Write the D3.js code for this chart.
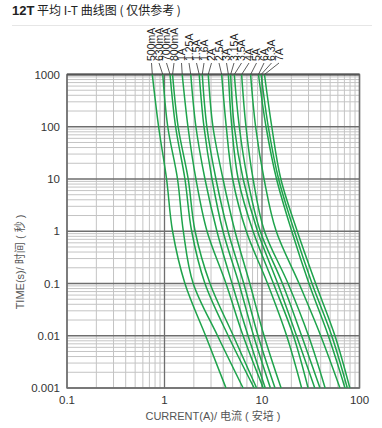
<!DOCTYPE html>
<html><head><meta charset="utf-8">
<script src="https://cdn.jsdelivr.net/npm/d3@7"></script>
<style>
html,body{margin:0;padding:0;background:#fff;}
svg{display:block;font-family:"Liberation Sans",Arial,"Noto Sans CJK SC",sans-serif;}
</style></head>
<body>
<svg id="c" width="382" height="428"></svg>
<script>
// ratings (labels)
const ratings = ["500mA","630mA","700mA","800mA","1A","1.25A","1.5A","1.6A","2A","2.5A","3A","3.15A","3.5A","4A","5A","6A","6.3A","7A"];
// time levels (s) at which the currents are read
const times = [1000, 100, 10, 1, 0.1, 0.01, 0.001];
// current (A) for each rating at each time level
const i500mA = [0.75, 0.87, 1.05, 1.21, 1.62, 2.64, 4.27];
const i630mA = [0.96, 1.08, 1.36, 1.56, 1.97, 3.5, 6.4];
const i700mA = [1.14, 1.3, 1.62, 1.9, 2.6, 4.5, 8.3];
const i800mA = [1.21, 1.38, 1.75, 2.06, 2.93, 5.08, 8.8];
const i1A    = [1.52, 1.74, 2.1, 2.73, 4.27, 6.4, 10.3];
const i1_25A = [1.86, 2.1, 2.6, 3.45, 4.93, 7.2, 10.8];
const i1_5A  = [2.27, 2.54, 3.07, 3.98, 5.8, 8.2, 12.2];
const i1_6A  = [2.44, 2.72, 3.37, 4.48, 6.5, 9.1, 13.6];
const i2A    = [2.81, 3.14, 3.98, 5.28, 7.5, 10.5, 15.7];
const i2_5A  = [3.86, 4.3, 5.0, 6.9, 11.4, 17.9, 25.5];
const i3A    = [4.52, 4.9, 5.7, 8.1, 13.1, 21, 29.7];
const i3_15A = [4.77, 5.2, 6.4, 9.0, 14.5, 22.6, 34.8];
const i3_5A  = [5.2, 5.85, 7.1, 9.6, 16.2, 25.5, 39.3];
const i4A    = [6.18, 6.85, 8.1, 10.6, 18.5, 30, 44.4];
const i5A    = [7.64, 8.6, 10.5, 14, 24, 40, 63];
const i6A    = [9.2, 11, 14.1, 20.2, 30.3, 47.9, 71];
const i6_3A  = [9.8, 11.6, 14.8, 21.5, 32.6, 51.9, 75];
const i7A    = [10.6, 12.6, 15.6, 23, 35.5, 56, 79.6];
const seriesCurrents = [i500mA,i630mA,i700mA,i800mA,i1A,i1_25A,i1_5A,i1_6A,i2A,i2_5A,i3A,i3_15A,i3_5A,i4A,i5A,i6A,i6_3A,i7A];
// tick labels
const xTicks = [0.1, 1, 10, 100];
const xTickLabels = ["0.1","1","10","100"];
const yTicks = [1000, 100, 10, 1, 0.1, 0.01, 0.001];
const yTickLabels = ["1000","100","10","1","0.1","0.01","0.001"];

const svg = d3.select("#c");
const L = 67, R = 359.5, T = 74.5, B = 388;
const x = d3.scaleLog().domain([0.1, 100]).range([L, R]);
const y = d3.scaleLog().domain([0.001, 1000]).range([B, T]);

// title
const title = svg.append("text").attr("x", 12).attr("y", 15).attr("font-size", 12).attr("fill", "#222");
title.append("tspan").attr("font-weight", "bold").attr("font-size", 13).text("12T");
title.append("tspan").attr("font-family", "'Noto Sans CJK SC',sans-serif").text(" 平均 I-T 曲线图 ( 仅供参考 )");
svg.append("line").attr("x1", 12).attr("x2", 372).attr("y1", 25.5).attr("y2", 25.5).attr("stroke", "#e6e6e6");

// grid
const g = svg.append("g");
const minorX = [], majorX = [];
for (let e = -1; e <= 2; e++) for (let k = 1; k <= 9; k++) {
  const v = k * Math.pow(10, e);
  if (v < 0.1 - 1e-9 || v > 100 + 1e-9) continue;
  (k === 1 ? majorX : minorX).push(v);
}
const minorY = [], majorY = [];
for (let e = -3; e <= 3; e++) for (let k = 1; k <= 9; k++) {
  const v = k * Math.pow(10, e);
  if (v < 0.001 - 1e-12 || v > 1000 + 1e-9) continue;
  (k === 1 ? majorY : minorY).push(v);
}
g.selectAll(".mx").data(minorX).enter().append("line")
  .attr("x1", d => x(d)).attr("x2", d => x(d)).attr("y1", T).attr("y2", B)
  .attr("stroke", "#c4c4c4").attr("stroke-width", 1);
g.selectAll(".my").data(minorY).enter().append("line")
  .attr("x1", L).attr("x2", R).attr("y1", d => y(d)).attr("y2", d => y(d))
  .attr("stroke", "#c4c4c4").attr("stroke-width", 1);
g.selectAll(".Mx").data(majorX).enter().append("line")
  .attr("x1", d => x(d)).attr("x2", d => x(d)).attr("y1", T).attr("y2", B)
  .attr("stroke", "#6e6e6e").attr("stroke-width", 1.3);
g.selectAll(".My").data(majorY).enter().append("line")
  .attr("x1", L).attr("x2", R).attr("y1", d => y(d)).attr("y2", d => y(d))
  .attr("stroke", "#6e6e6e").attr("stroke-width", 1.3);
svg.append("rect").attr("x", L).attr("y", T).attr("width", R - L).attr("height", B - T)
  .attr("fill", "none").attr("stroke", "#6e6e6e").attr("stroke-width", 1.4);
svg.append("line").attr("x1", L).attr("x2", R).attr("y1", T).attr("y2", T).attr("stroke", "#555").attr("stroke-width", 2);

// curves
const line = d3.line().x(d => x(d[0])).y(d => y(d[1])).curve(d3.curveMonotoneY);
seriesCurrents.forEach(arr => {
  const pts = arr.map((c, i) => [c, times[i]]);
  svg.append("path").attr("d", line(pts)).attr("fill", "none")
    .attr("stroke", "#1ea34b").attr("stroke-width", 1.5);
});

// labels + leaders
ratings.forEach((r, i) => {
  const lx = 151.5 + i * 7.5;
  const cx = x(seriesCurrents[i][0]);
  svg.append("line").attr("x1", lx).attr("y1", 63).attr("x2", cx).attr("y2", T)
    .attr("stroke", "#333").attr("stroke-width", 0.8);
  svg.append("text").attr("transform", `translate(${lx + 3.8},61) rotate(-90)`)
    .attr("font-size", 10.5).attr("fill", "#222").text(r);
});

// ticks
svg.selectAll(".xt").data(xTicks).enter().append("text")
  .attr("x", d => x(d)).attr("y", 404).attr("text-anchor", "middle")
  .attr("font-size", 11.5).attr("fill", "#333").text((d, i) => xTickLabels[i]);
svg.selectAll(".yt").data(yTicks).enter().append("text")
  .attr("x", 60).attr("y", d => y(d) + 4).attr("text-anchor", "end")
  .attr("font-size", 11.5).attr("fill", "#333").text((d, i) => yTickLabels[i]);

// axis titles
svg.append("text").attr("x", 213).attr("y", 420).attr("text-anchor", "middle")
  .attr("font-size", 11).attr("fill", "#555").text("CURRENT(A)/ 电流 ( 安培 )");
svg.append("text").attr("transform", "translate(24,262) rotate(-90)").attr("text-anchor", "middle")
  .attr("font-size", 11).attr("fill", "#555").text("TIME(s)/ 时间 ( 秒 )");
</script>
</body></html>
